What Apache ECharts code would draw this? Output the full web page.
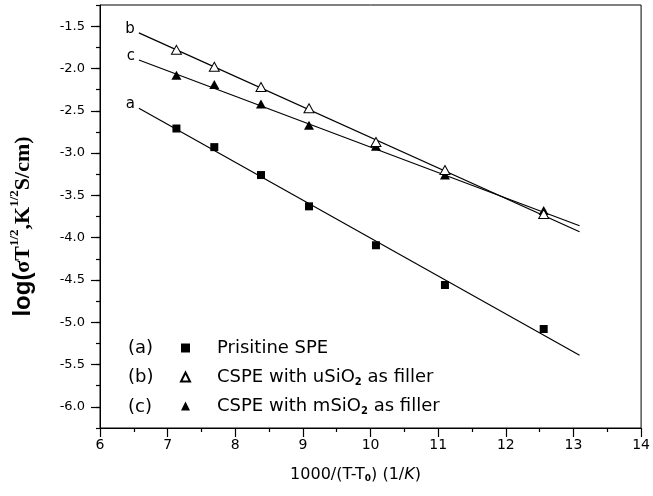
<!DOCTYPE html>
<html>
<head>
<meta charset="utf-8">
<script src="https://cdn.jsdelivr.net/npm/echarts@6/dist/echarts.min.js"></script>
<style>html,body{margin:0;padding:0;background:#fff}#c{width:653px;height:496px}</style>
</head>
<body>
<div id="c"></div>
<script>
// measured points
const xVals = [7.13, 7.69, 8.38, 9.09, 10.08, 11.10, 12.56];
const aVals = [-2.71, -2.93, -3.26, -3.63, -4.09, -4.56, -5.08];
const bVals = [-1.78, -1.98, -2.22, -2.47, -2.87, -3.20, -3.72];
const cVals = [-2.08, -2.19, -2.42, -2.67, -2.92, -3.26, -3.68];
// fitted lines (endpoints)
const fitX = [6.575, 13.09];
const fitA = [-2.47, -5.39];
const fitB = [-1.58, -3.93];
const fitC = [-1.90, -3.86];
const seriesNames = ['Prisitine SPE', 'CSPE with uSiO2 as filler', 'CSPE with mSiO2 as filler'];
const legendTags = ['(a)', '(b)', '(c)'];
const lineTags = ['a', 'b', 'c'];
const yTicks = [-6.0, -5.5, -5.0, -4.5, -4.0, -3.5, -3.0, -2.5, -2.0, -1.5];

const pairs = (xs, ys) => xs.map((x, i) => [x, ys[i]]);
const F = 'DejaVu Sans';

function fitSeries(ys, tag) {
  const d = pairs(fitX, ys);
  return {
    type: 'line', data: [
      {value: d[0], label: {show: true, formatter: tag, position: 'left', distance: 4, offset: [0, -4],
        fontFamily: F, fontSize: 15, color: '#000'}},
      {value: d[1]}
    ],
    symbol: 'circle', symbolSize: 0, showSymbol: true,
    lineStyle: {color: '#000', width: 1.2}, itemStyle: {color: '#000'},
    silent: true, z: 2, legendHoverLink: false
  };
}

const chart = echarts.init(document.getElementById('c'), null, {renderer: 'canvas'});
chart.setOption({
  animation: false,
  backgroundColor: '#fff',
  grid: {left: 98, right: 7, top: 5, bottom: 68, show: true, borderColor: '#000', borderWidth: 1, backgroundColor: 'transparent'},
  xAxis: {
    type: 'value', min: 6, max: 14, interval: 1,
    axisLine: {lineStyle: {color: '#000', width: 1}},
    axisTick: {show: true, inside: false, length: 9, lineStyle: {color: '#000', width: 1.2}},
    minorTick: {show: true, splitNumber: 2, length: 4, lineStyle: {color: '#000', width: 1.2}},
    axisLabel: {color: '#000', fontFamily: F, fontSize: 14, margin: 10},
    splitLine: {show: false},
    name: '1000/(T-T{s|0}) (1/{i|K})',
    nameLocation: 'middle', nameGap: 38,
    nameTextStyle: {color: '#000', fontFamily: F, fontSize: 16, padding: [0, 30, 0, 0],
      rich: {s: {fontSize: 9, fontWeight: 'bold', verticalAlign: 'bottom', fontFamily: F, color: '#000', padding: [8, 0, 0, 0]},
             i: {fontStyle: 'italic', fontSize: 16, fontFamily: F, color: '#000'}}}
  },
  yAxis: [{
    type: 'value', min: -6.25, max: -1.25,
    axisLine: {show: true, lineStyle: {color: '#000', width: 1}},
    axisTick: {show: true, inside: false, length: 9, customValues: yTicks, lineStyle: {color: '#000', width: 1.2}},
    axisLabel: {color: '#000', fontFamily: F, fontSize: 13, margin: 15, customValues: yTicks,
      formatter: v => v.toFixed(1)},
    splitLine: {show: false},
    name: '{a|log(}{b|σT}{s|1/2}{b|,K}{s|1/2}{b|S/cm)}',
    nameLocation: 'middle', nameRotate: 90, nameGap: 62,
    nameTextStyle: {color: '#000', padding: [0, 20, 0, 0],
      rich: {
        a: {fontFamily: 'Liberation Sans', fontWeight: 'bold', fontSize: 24, color: '#000', lineHeight: 30},
        b: {fontFamily: 'Liberation Serif', fontWeight: 'bold', fontSize: 22, color: '#000', lineHeight: 30},
        s: {fontFamily: 'Liberation Serif', fontWeight: 'bold', fontSize: 13, color: '#000', verticalAlign: 'top', lineHeight: 16}
      }}
  }, {
    type: 'value', min: -6.25, max: -1.25, interval: 0.25, position: 'left',
    axisLine: {show: false},
    axisTick: {show: true, inside: false, length: 4, lineStyle: {color: '#000', width: 1.2}},
    axisLabel: {show: false}, splitLine: {show: false}
  }],
  legend: {
    orient: 'vertical', left: 180, top: 338, padding: 0, itemGap: 9,
    itemWidth: 9, itemHeight: 9,
    data: seriesNames,
    selectedMode: false,
    formatter: n => n.replace('SiO2', 'SiO{s|2}'),
    textStyle: {color: '#000', fontFamily: F, fontSize: 18, lineHeight: 20, padding: [0, 0, 0, 22],
      rich: {s: {fontSize: 10, fontWeight: 'bold', fontFamily: F, color: '#000', verticalAlign: 'bottom', padding: [10, 0, 0, 0]}}}
  },
  graphic: legendTags.map((t, i) => ({
    type: 'text', left: 128, top: 339 + i * 29.5,
    style: {text: t, fontFamily: F, fontSize: 18, fill: '#000'}
  })),
  series: [
    fitSeries(fitA, lineTags[0]),
    fitSeries(fitB, lineTags[1]),
    fitSeries(fitC, lineTags[2]),
    {name: seriesNames[0], type: 'scatter', data: pairs(xVals, aVals), symbol: 'rect', symbolSize: 8,
     itemStyle: {color: '#000', opacity: 1}, z: 3},
    {name: seriesNames[1], type: 'scatter', data: pairs(xVals, bVals), symbol: 'triangle', symbolSize: [10, 9],
     itemStyle: {color: '#fff', borderColor: '#000', borderWidth: 1, opacity: 1}, z: 4},
    {name: seriesNames[2], type: 'scatter', data: pairs(xVals, cVals), symbol: 'triangle', symbolSize: [10, 9],
     itemStyle: {color: '#000', opacity: 1}, z: 3}
  ]
});
</script>
</body>
</html>
